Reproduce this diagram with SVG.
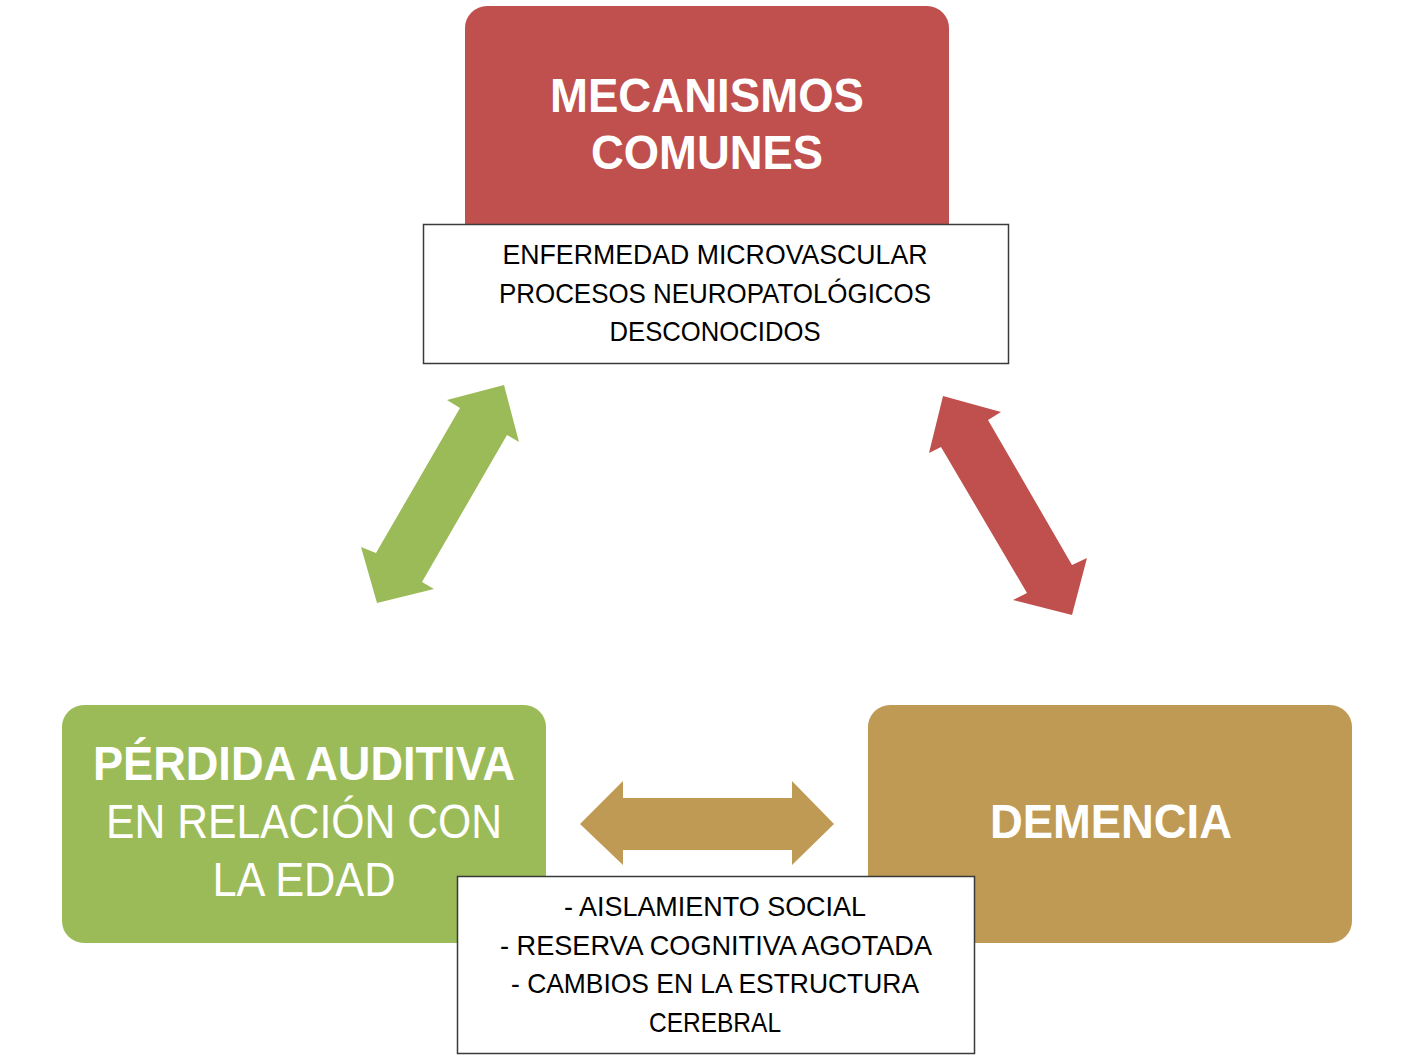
<svg xmlns="http://www.w3.org/2000/svg" width="1414" height="1062" viewBox="0 0 1414 1062">
<style>
.t{font-family:"Liberation Sans",Arial,sans-serif;text-anchor:middle}
.w{fill:#fff}
.b{font-weight:bold}
.k{fill:#000;font-size:28px}
.big{font-size:48px}
.box{fill:#fff;stroke:#3a3a3a;stroke-width:1.5}
</style>
<rect width="1414" height="1062" fill="#fff"/>
<g id="connectors">
<polygon fill="#9BBB59" points="504,385 519,442 507,435 422,582 434,589 377,603 361,547 376,553 460,408 447,400"/>
<polygon fill="#C0504D" points="943,396 1001,412 988,420 1072,565 1087,558 1072,615 1013,600 1027,593 941,447 929,453"/>
<polygon fill="#BE9A54" points="580,824 623,781 623,798 792,798 792,781 834,824 792,865 792,850 623,850 623,865"/>
</g>
<g id="mecanismos">
<rect x="465" y="6" width="484" height="240" rx="22" fill="#C0504D"/>
<text class="t w b big" x="707" y="112" textLength="314" lengthAdjust="spacingAndGlyphs">MECANISMOS</text>
<text class="t w b big" x="707" y="169" textLength="232" lengthAdjust="spacingAndGlyphs">COMUNES</text>
</g>
<g id="mecanismos-detalle">
<rect class="box" x="423.5" y="224.5" width="585" height="139"/>
<text class="t k" x="715" y="264" textLength="425" lengthAdjust="spacingAndGlyphs">ENFERMEDAD MICROVASCULAR</text>
<text class="t k" x="715" y="303" textLength="432" lengthAdjust="spacingAndGlyphs">PROCESOS NEUROPATOLÓGICOS</text>
<text class="t k" x="715" y="341" textLength="211" lengthAdjust="spacingAndGlyphs">DESCONOCIDOS</text>
</g>
<g id="perdida">
<rect x="62" y="705" width="484" height="238" rx="22" fill="#9BBB59"/>
<text class="t w b big" x="304" y="780" textLength="422" lengthAdjust="spacingAndGlyphs">PÉRDIDA AUDITIVA</text>
<text class="t w big" x="304" y="838" textLength="396" lengthAdjust="spacingAndGlyphs">EN RELACIÓN CON</text>
<text class="t w big" x="304" y="896" textLength="183" lengthAdjust="spacingAndGlyphs">LA EDAD</text>
</g>
<g id="demencia">
<rect x="868" y="705" width="484" height="238" rx="22" fill="#BE9A54"/>
<text class="t w b big" x="1111" y="838" textLength="242" lengthAdjust="spacingAndGlyphs">DEMENCIA</text>
</g>
<g id="factores">
<rect class="box" x="457.5" y="876.5" width="517" height="177"/>
<text class="t k" x="715" y="916" textLength="302" lengthAdjust="spacingAndGlyphs">- AISLAMIENTO SOCIAL</text>
<text class="t k" x="716" y="955" textLength="432" lengthAdjust="spacingAndGlyphs">- RESERVA  COGNITIVA AGOTADA</text>
<text class="t k" x="715" y="993" textLength="408" lengthAdjust="spacingAndGlyphs">- CAMBIOS EN LA ESTRUCTURA</text>
<text class="t k" x="715" y="1032" textLength="132" lengthAdjust="spacingAndGlyphs">CEREBRAL</text>
</g>
</svg>
